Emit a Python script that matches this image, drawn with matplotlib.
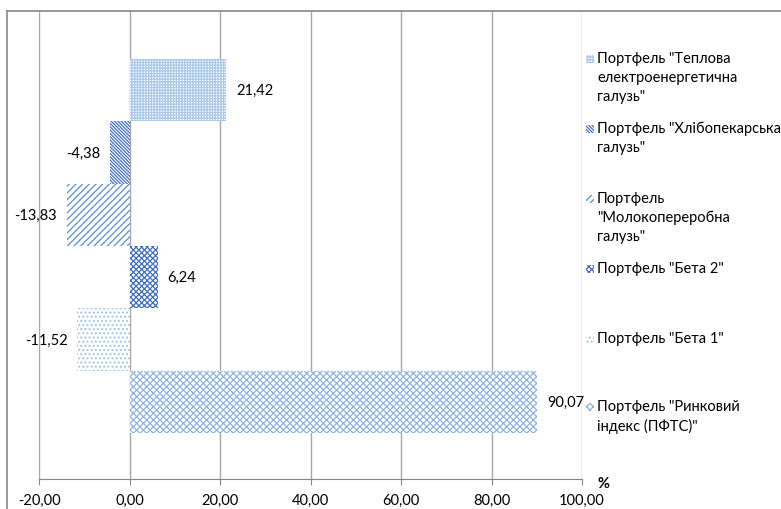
import matplotlib
matplotlib.use("Agg")
import matplotlib.pyplot as plt
from matplotlib.lines import Line2D
from matplotlib.patches import Rectangle

plt.rcParams['font.family'] = ['Lato', 'DejaVu Sans']
plt.rcParams['hatch.linewidth'] = 0.9

# portfolios, top to bottom as drawn
labels = ['Портфель "Теплова\nелектроенергетична\nгалузь"',
          'Портфель "Хлібопекарська\nгалузь"',
          'Портфель\n"Молокопереробна\nгалузь"',
          'Портфель "Бета 2"',
          'Портфель "Бета 1"',
          'Портфель "Ринковий\nіндекс (ПФТС)"']
values = [21.42, -4.38, -13.83, 6.24, -11.52, 90.07]
xticks = [-20, 0, 20, 40, 60, 80, 100]

colors = ['#a9c8ea', '#4472c4', '#5b8fd5', '#3f6fc4', '#9dc3e6', '#8fb4e3']
hatches = ['++++++', '\\' * 10, '/////', 'xxxxxx', '....', 'xxxxx']
legend_y = [60, 130, 200, 270, 340, 408]   # pixel rows of legend entries

W, H = 781, 510
fig = plt.figure(figsize=(W / 100, H / 100), dpi=100)
ax = fig.add_axes([39 / W, 1 - 480 / H, (582 - 39) / W, (480 - 12) / H])

n = len(values)
ypos = [n - 1 - i for i in range(n)]
for y, v, c, h in zip(ypos, values, colors, hatches):
    b = ax.barh(y, v, height=1.0, color='white', edgecolor=c, hatch=h, linewidth=0)
    ax.bar_label(b, labels=[f"{v:.2f}".replace('.', ',')], padding=7, fontsize=10.5)

ax.set_xlim(-20, 100)
ax.set_ylim(-1.24, n - 1 + 1.27)
ax.set_xticks(xticks)
ax.set_xticklabels([f"{t:.2f}".replace('.', ',') for t in xticks], fontsize=10.5)
ax.set_yticks([])
ax.grid(axis='x', color='#a6a6a6', linewidth=1)
ax.set_axisbelow(True)
for s in ['top', 'right', 'left']:
    ax.spines[s].set_visible(False)
ax.spines['bottom'].set_color('#868686')
ax.tick_params(axis='x', length=4, color='#868686', pad=6)

fig.text(598 / W, 1 - 484 / H, '%', fontsize=10.5, fontweight='bold', va='center')

# legend drawn by hand next to the plot
for lab, c, h, py in zip(labels, colors, hatches, legend_y):
    fig.add_artist(Rectangle((586 / W, 1 - (py + 4) / H), 8 / W, 8 / H,
                             transform=fig.transFigure, facecolor='white',
                             edgecolor=c, hatch=h, linewidth=0))
    fig.text(597 / W, 1 - (py - 8) / H, lab, fontsize=10.5, va='top',
             linespacing=1.45)

# chart frame
fig.add_artist(Line2D([7 / W, 7 / W], [0, 1 - 12 / H], transform=fig.transFigure,
                      color='#888888', linewidth=1.2))
fig.add_artist(Line2D([7 / W, 1], [1 - 12 / H, 1 - 12 / H], transform=fig.transFigure,
                      color='#888888', linewidth=1.2))

fig.savefig("out.png", dpi=100)
